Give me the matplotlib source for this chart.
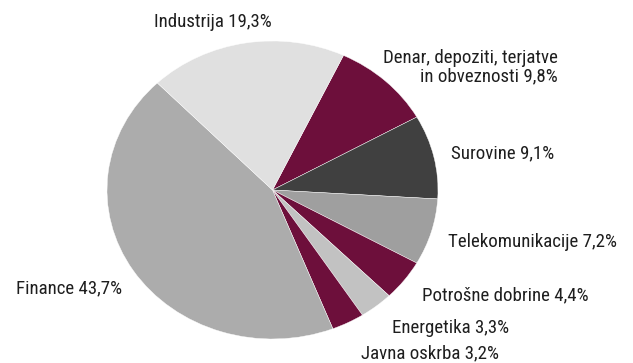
import matplotlib
matplotlib.use("Agg")
import matplotlib.pyplot as plt
from matplotlib import font_manager

sectors = ["Denar, depoziti, terjatve\nin obveznosti", "Surovine", "Telekomunikacije",
           "Potrošne dobrine", "Energetika", "Javna oskrba", "Finance", "Industrija"]
shares = [9.8, 9.1, 7.2, 4.4, 3.3, 3.2, 43.7, 19.3]
colors = ["#6d0f3b", "#404040", "#9f9f9f", "#6d0f3b", "#c2c2c2", "#6d0f3b", "#acacac", "#e0e0e0"]

# label anchor points in pixels (x centre, y centre from top)
label_pos = [(470, 67), (503, 153), (532, 242), (505, 295), (451, 328),
             (430, 353), (69, 288), (213, 22)]

W, H = 633, 363
fig = plt.figure(figsize=(W / 100, H / 100), dpi=100)
# ellipse: centre (272.5, 190), rx 165.5, ry 149 px
ax = fig.add_axes([107 / W, (H - 339) / H, 331 / W, 298 / H])
ax.pie(shares, colors=colors, startangle=64.6, counterclock=False,
       wedgeprops=dict(edgecolor="white", linewidth=0.3))
ax.set_aspect("auto")
ax.set_xlim(-1, 1)
ax.set_ylim(-1, 1)

names = {f.name for f in font_manager.fontManager.ttflist}
family = next((n for n in ("Roboto Condensed", "Nimbus Sans Narrow", "Liberation Sans Narrow",
                           "Archivo Narrow", "PT Sans Narrow") if n in names), "DejaVu Sans")

for name, val, (px, py) in zip(sectors, shares, label_pos):
    txt = f"{name} {val:.1f}%".replace(".", ",")
    fig.text(px / W, 1 - py / H, txt, ha="center", va="center", multialignment="right",
             fontsize=13.6, color="#1e1e1e", family=family, linespacing=1.0)

fig.savefig("out.png", dpi=100)
